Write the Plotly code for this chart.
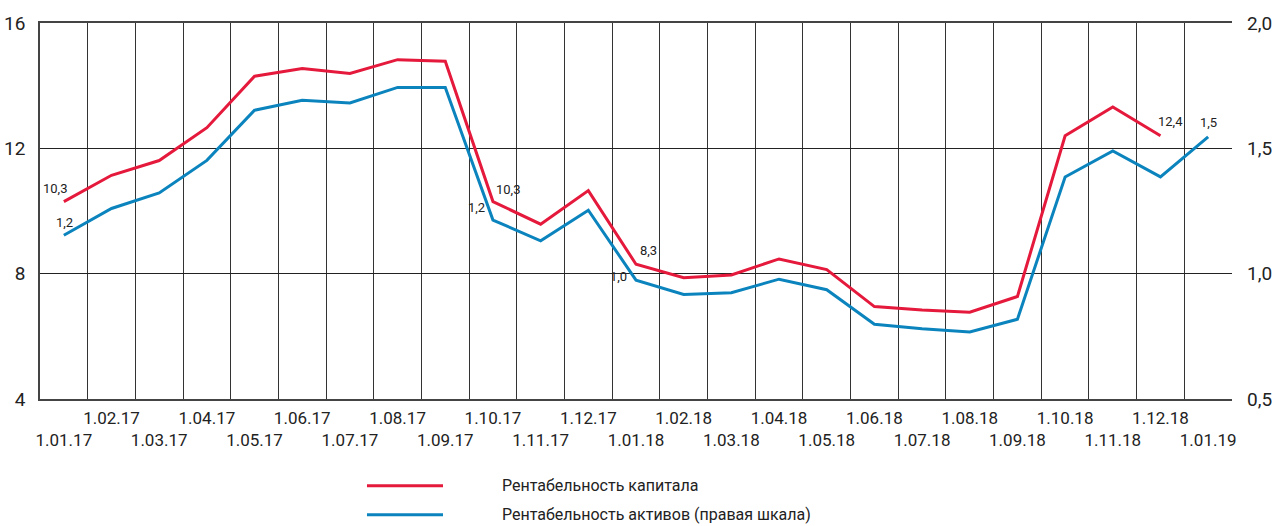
import plotly.graph_objects as go

dates = ["1.01.17", "1.02.17", "1.03.17", "1.04.17", "1.05.17", "1.06.17", "1.07.17",
         "1.08.17", "1.09.17", "1.10.17", "1.11.17", "1.12.17", "1.01.18", "1.02.18",
         "1.03.18", "1.04.18", "1.05.18", "1.06.18", "1.07.18", "1.08.18", "1.09.18",
         "1.10.18", "1.11.18", "1.12.18", "1.01.19"]

roe = [10.3, 11.14, 11.61, 12.66, 14.30, 14.55, 14.39, 14.83, 14.78, 10.3, 9.58, 10.65,
       8.3, 7.87, 7.96, 8.47, 8.13, 6.95, 6.84, 6.77, 7.27, 12.40, 13.32, 12.4, None]

roa = [1.153, 1.26, 1.322, 1.452, 1.652, 1.692, 1.681, 1.743, 1.743, 1.214, 1.131, 1.253,
       0.974, 0.917, 0.924, 0.978, 0.936, 0.798, 0.780, 0.767, 0.818, 1.386, 1.490, 1.386, 1.546]

left_ticks = [4, 8, 12, 16]
right_ticks = [0.5, 1.0, 1.5, 2.0]

roe_name = "Рентабельность капитала"
roa_name = "Рентабельность активов (правая шкала)"

RED = "#E5193B"
BLUE = "#0B84BE"
FONT = "Roboto, Liberation Sans, sans-serif"
TXT = "#222"

fig = go.Figure()
fig.add_trace(go.Scatter(x=dates, y=roe, mode="lines", name=roe_name,
                         line=dict(color=RED, width=3), connectgaps=False))
fig.add_trace(go.Scatter(x=dates, y=roa, mode="lines", name=roa_name,
                         line=dict(color=BLUE, width=3), yaxis="y2"))

ticktext = [d if i % 2 else " <br>" + d for i, d in enumerate(dates)]


def fmt(v):
    return f"{v:.1f}".replace(".", ",")


label_specs = [
    # (series, index, axis, xanchor, yanchor, xshift, yshift)
    (roe, 0, "y", "right", "bottom", 5, 4),
    (roa, 0, "y2", "center", "bottom", 1, 3),
    (roe, 9, "y", "left", "bottom", 1, 3),
    (roa, 9, "y2", "right", "bottom", -6, 3),
    (roe, 12, "y", "left", "bottom", 2, 4),
    (roa, 12, "y2", "right", "middle", -7, 4),
    (roe, 23, "y", "left", "bottom", -4, 5),
    (roa, 24, "y2", "center", "bottom", 0, 5),
]
for series, i, ax, xa, ya, xs, ys in label_specs:
    fig.add_annotation(x=dates[i], y=series[i], xref="x", yref=ax, text=fmt(series[i]),
                       showarrow=False, xanchor=xa, yanchor=ya, xshift=xs, yshift=ys,
                       font=dict(size=13, color=TXT, family=FONT))

# manual legend
for yy, col, name in [(-0.231, RED, roe_name), (-0.308, BLUE, roa_name)]:
    fig.add_shape(type="line", xref="paper", yref="paper", x0=0.2743, x1=0.3381,
                  y0=yy, y1=yy, line=dict(color=col, width=3))
    fig.add_annotation(xref="paper", yref="paper", x=0.3859, y=yy, text=name,
                       showarrow=False, xanchor="left", yanchor="middle",
                       font=dict(size=16, color=TXT, family=FONT))

fig.update_layout(
    width=1280, height=526,
    margin=dict(l=40, r=48, t=23, b=127),
    paper_bgcolor="white", plot_bgcolor="white",
    showlegend=False,
    font=dict(family=FONT, color=TXT, size=17),
    xaxis=dict(type="category", range=[-0.5, 24.5], tickmode="array",
               tickvals=dates, ticktext=ticktext, tickson="boundaries", tickangle=0,
               showgrid=True, gridcolor="#333", gridwidth=1, automargin=False,
               ticks="", showline=True, linecolor="#444", linewidth=1.5, mirror=True,
               tickfont=dict(size=17, family=FONT, color=TXT), zeroline=False,
               ticklabelstandoff=3),
    yaxis=dict(range=[4, 16], tickvals=left_ticks, ticktext=[str(v) for v in left_ticks],
               showgrid=True, gridcolor="#222", gridwidth=1, zeroline=False, automargin=False,
               showline=True, linecolor="#444", linewidth=1.5, ticks="",
               tickfont=dict(size=19, family=FONT, color=TXT), ticklabelstandoff=9),
    yaxis2=dict(range=[0.5, 2.0], overlaying="y", side="right", automargin=False,
                tickvals=right_ticks, ticktext=[fmt(v) for v in right_ticks],
                showgrid=False, zeroline=False, ticks="",
                tickfont=dict(size=19, family=FONT, color=TXT), ticklabelstandoff=14),
)

fig.write_html("out.html", config={"displayModeBar": False},
               post_script="document.body.style.margin='0';document.body.style.overflow='hidden';")
